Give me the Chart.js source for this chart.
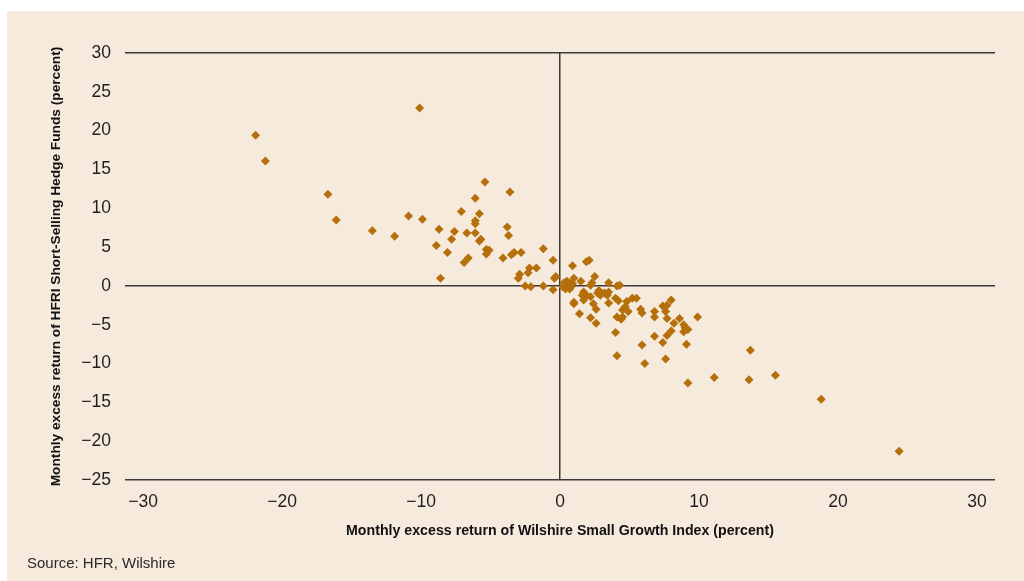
<!DOCTYPE html>
<html>
<head>
<meta charset="utf-8">
<script src="https://cdn.jsdelivr.net/npm/chart.js@4/dist/chart.umd.min.js"></script>
<style>
  html, body { margin: 0; padding: 0; background: #ffffff; width: 1024px; height: 581px; overflow: hidden; }
  #panel { position: absolute; left: 7px; top: 11px; width: 1017px; height: 570px; background: #f6eadd; }
  #c { position: absolute; left: 0; top: 0; }
  #source { position: absolute; left: 27px; top: 554px; font-family: "Liberation Sans", Arial, sans-serif; font-size: 15px; color: #2a2a2a; }
</style>
</head>
<body>
<div id="panel"></div>
<canvas id="c" width="1024" height="581"></canvas>
<div id="source">Source: HFR, Wilshire</div>
<script>
// Monthly excess return of Wilshire Small Growth Index (percent)
const wilshireX = [
  -21.9, -21.2, -10.1, -16.7, -16.1, -13.5, -11.9, -10.9, -9.9, -8.7,
  -8.9, -8.1, -8.6, -7.8, -7.6, -7.1, -6.7, -6.9, -6.6, -6.1,
  -6.1, -6.1, -6.1, -5.8, -5.8, -5.7, -5.4, -5.3, -5.1, -5.3,
  -4.1, -3.8, -3.7, -3.6, -3.5, -3.3, -2.8, -3.0, -2.9, -2.5,
  -2.1, -2.2, -2.3, -1.7, -1.2, -0.5, -1.2, -0.5, -0.3, -0.4,
  0.9, 2.1, 1.9, 0.3, 0.5, 0.7, 1.0, 0.8, 0.2, 0.4,
  0.7, 0.9, 1.5, 2.5, 2.3, 2.2, 3.5, 4.1, 4.3, 1.0,
  1.0, 1.7, 1.6, 1.9, 2.2, 1.7, 2.8, 2.7, 2.9, 3.2,
  3.5, 3.4, 2.4, 2.6, 3.5, 4.0, 4.2, 1.4, 2.2, 2.6,
  4.1, 4.4, 4.5, 4.8, 4.7, 4.5, 4.9, 5.2, 5.5, 5.8,
  5.9, 6.8, 6.8, 7.4, 7.7, 8.0, 7.6, 7.7, 8.2, 8.6,
  8.9, 9.0, 9.2, 8.9, 8.0, 7.7, 9.9, 7.4, 6.8, 9.1,
  4.0, 5.9, 4.1, 6.1, 7.6, 9.2, 11.1, 13.6, 13.7, 15.5,
  18.8, 24.4
];
// Monthly excess return of HFRI Short-Selling Hedge Funds (percent)
const hfriY = [
  19.4, 16.1, 22.9, 11.8, 8.5, 7.1, 6.4, 9.0, 8.6, 7.3,
  5.2, 4.3, 1.0, 6.0, 7.0, 9.6, 6.8, 3.0, 3.6, 11.3,
  8.4, 8.0, 6.8, 9.3, 5.8, 6.0, 13.4, 4.7, 4.6, 4.1,
  3.6, 7.6, 6.5, 12.1, 4.0, 4.3, 4.3, 1.0, 1.5, 0.0,
  -0.1, 2.3, 1.7, 2.3, 4.8, 3.3, 0.0, -0.5, 1.2, 1.0,
  2.6, 3.3, 3.1, 0.4, 0.6, 0.3, 1.0, -0.1, -0.1, -0.4,
  -0.4, 0.3, 0.6, 1.2, 0.4, 0.1, 0.4, 0.0, 0.1, -2.1,
  -2.3, -0.8, -1.2, -1.2, -1.4, -1.8, -0.6, -0.9, -1.2, -0.9,
  -0.8, -1.2, -2.3, -3.0, -2.2, -1.6, -1.9, -3.6, -4.1, -4.8,
  -4.0, -4.3, -4.0, -2.0, -2.7, -3.1, -3.3, -1.6, -1.6, -3.0,
  -3.5, -3.3, -4.0, -2.6, -2.5, -1.8, -3.3, -4.2, -4.8, -4.2,
  -5.0, -5.4, -5.6, -5.9, -5.8, -6.4, -4.0, -7.3, -6.5, -7.5,
  -6.0, -7.6, -9.0, -10.0, -9.4, -12.5, -11.8, -12.1, -8.3, -11.5,
  -14.6, -21.3
];
const xTickValues = [-30, -20, -10, 0, 10, 20, 30];
const yTickValues = [-25, -20, -15, -10, -5, 0, 5, 10, 15, 20, 25, 30];
const xAxisTitle = 'Monthly excess return of Wilshire Small Growth Index (percent)';
const yAxisTitle = 'Monthly excess return of HFRI Short-Selling Hedge Funds (percent)';

const points = wilshireX.map((x, i) => ({ x: x, y: hfriY[i] }));
const axisLineColor = '#3a3a3a';
const fontFamily = '"Liberation Sans", Arial, sans-serif';
const fmt = v => (v < 0 ? '\u2212' + Math.abs(v) : String(v));

new Chart(document.getElementById('c'), {
  type: 'scatter',
  data: {
    datasets: [{
      data: points,
      pointStyle: 'rectRot',
      pointRadius: 4.5,
      pointBorderWidth: 0,
      backgroundColor: '#b5700b',
      borderColor: '#b5700b'
    }]
  },
  options: {
    responsive: false,
    animation: false,
    events: [],
    layout: { padding: { left: 0, right: 29, top: 53, bottom: 0 } },
    plugins: { legend: { display: false }, tooltip: { enabled: false } },
    scales: {
      x: {
        type: 'linear',
        min: -31.3,
        max: 31.3,
        afterBuildTicks: s => { s.ticks = xTickValues.map(v => ({ value: v })); },
        afterFit: s => { s.height = 101; },
        border: { display: false },
        grid: {
          drawTicks: false,
          lineWidth: 1.5,
          color: ctx => (ctx.tick && ctx.tick.value === 0 ? axisLineColor : 'rgba(0,0,0,0)')
        },
        ticks: {
          padding: 12,
          color: '#231f20',
          font: { family: fontFamily, size: 17.5 },
          callback: v => fmt(v)
        },
        title: {
          display: true,
          text: xAxisTitle,
          color: '#111',
          font: { family: fontFamily, size: 14.2, weight: 'bold' },
          padding: { top: 0, bottom: 41 }
        }
      },
      y: {
        type: 'linear',
        min: -25,
        max: 30,
        afterBuildTicks: s => { s.ticks = yTickValues.map(v => ({ value: v })); },
        afterFit: s => { s.width = 125; },
        border: { display: false },
        grid: {
          drawTicks: false,
          lineWidth: 1.5,
          color: ctx => (ctx.tick && (ctx.tick.value === 0 || ctx.tick.value === 30 || ctx.tick.value === -25) ? axisLineColor : 'rgba(0,0,0,0)')
        },
        ticks: {
          padding: 14,
          color: '#231f20',
          font: { family: fontFamily, size: 17.5 },
          callback: v => fmt(v)
        },
        title: {
          display: true,
          text: yAxisTitle,
          color: '#111',
          font: { family: fontFamily, size: 13.7, weight: 'bold' },
          padding: { top: 48, bottom: 0 }
        }
      }
    }
  }
});
</script>
</body>
</html>
